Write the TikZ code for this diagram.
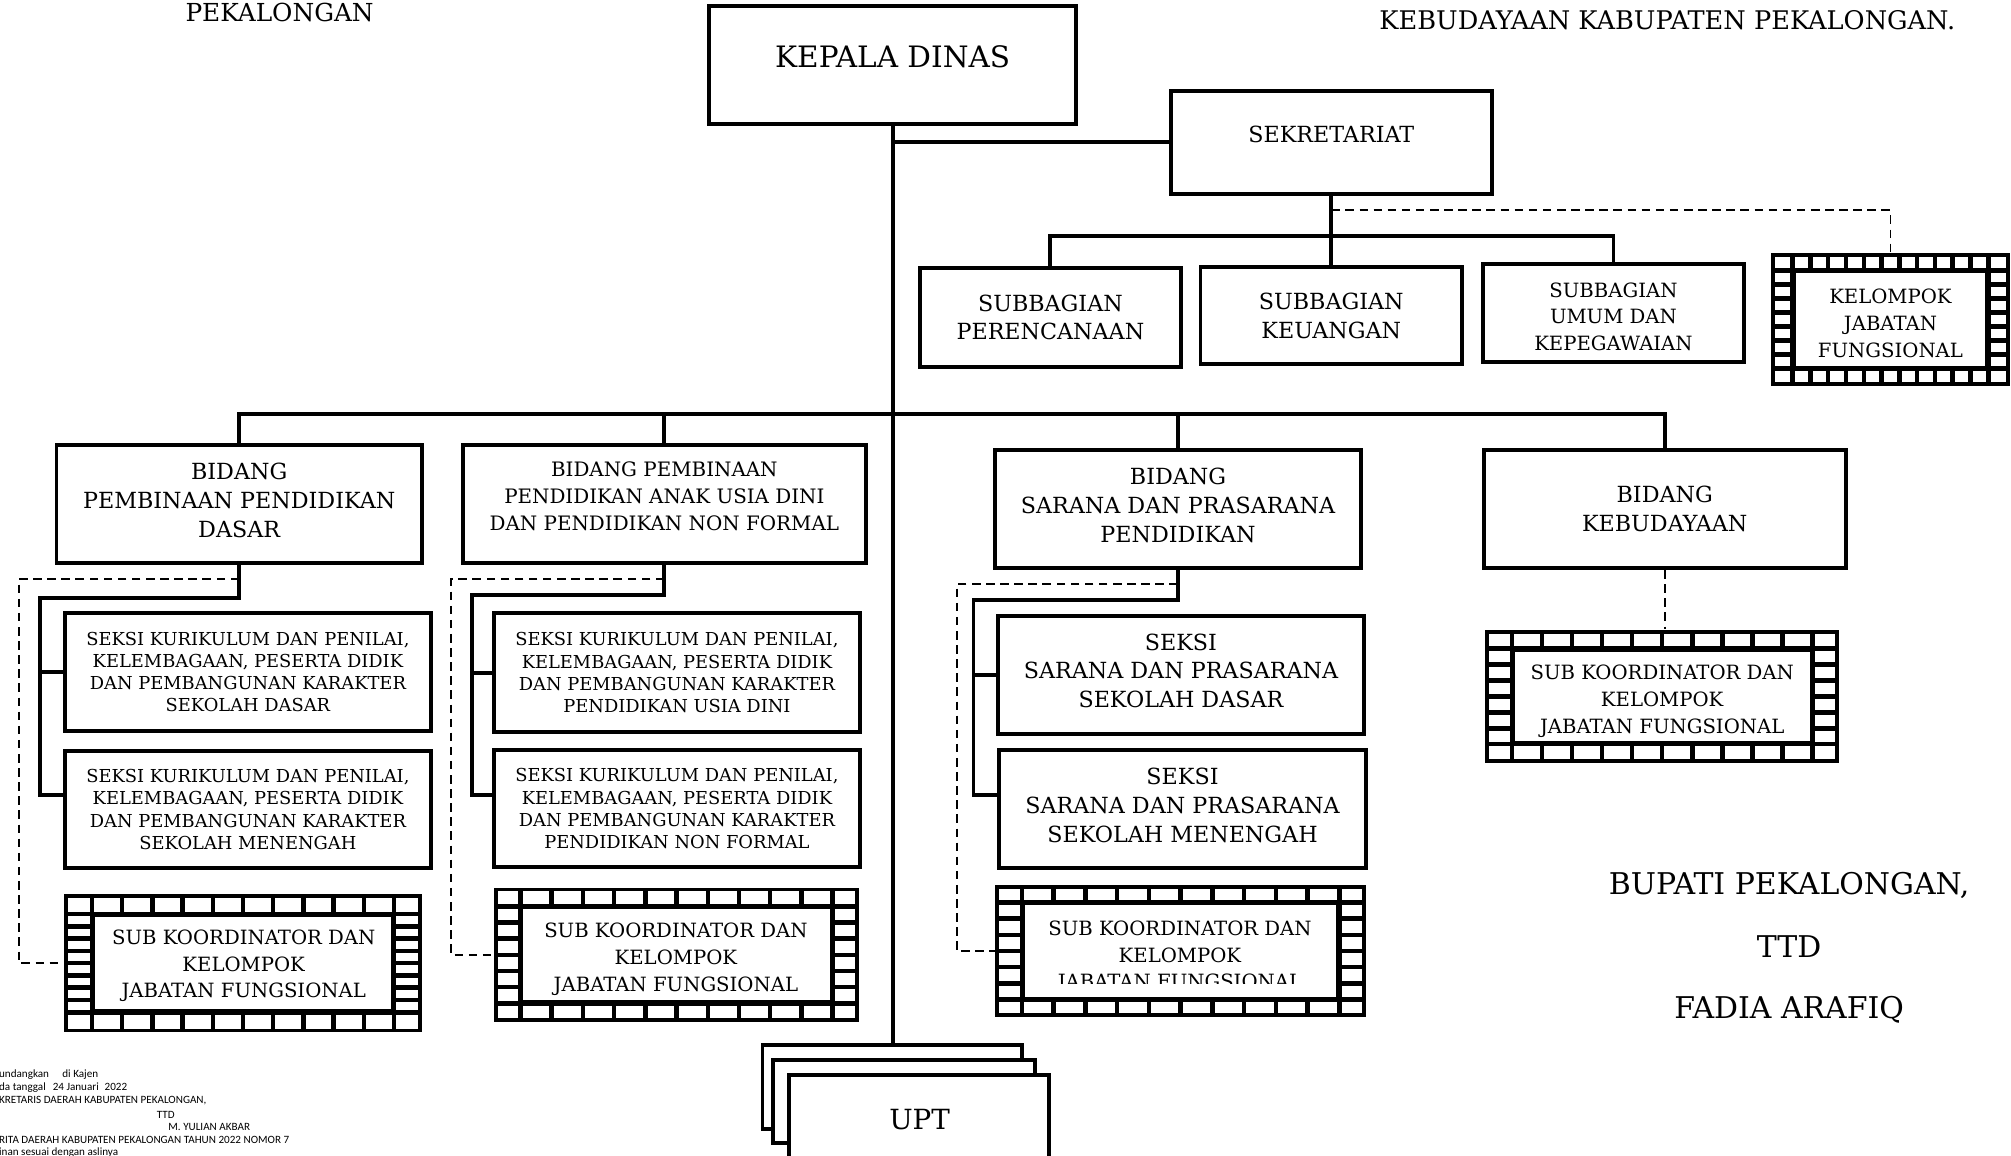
\documentclass[tikz,border=0pt]{standalone}
\usepackage{fontspec}
\setmainfont{DejaVu Serif}
\newfontfamily\smallsans{Carlito}
\usetikzlibrary{fit}

\newcommand\filmbox[9]{%
  \node[inner sep=0pt, fit={(#2,#3)(#4,#5)}] (#1) {};
  \pgfmathsetmacro\FmA{#2+#8-4}%
  \pgfmathsetmacro\FmE{#4-#8+4}%
  \pgfmathsetmacro\FmQ{(\FmE-\FmA-3.5)/#6}%
  \pgfmathsetmacro\FmB{#3+#9-4}%
  \pgfmathsetmacro\FmF{#5-#9+4}%
  \pgfmathsetmacro\FmP{(\FmF-\FmB-3.5)/#7}%
  \fill[black] (#2,#3) rectangle (#4,#5);
  \fill[white] ({#2+#8},{#3+#9}) rectangle ({#4-#8},{#5-#9});
  \fill[white] ({#2+3},{#3+3}) rectangle (\FmA,\FmB);
  \fill[white] (\FmE,{#3+3}) rectangle ({#4-3},\FmB);
  \fill[white] ({#2+3},\FmF) rectangle (\FmA,{#5-3});
  \fill[white] (\FmE,\FmF) rectangle ({#4-3},{#5-3});
  \foreach \k in {1,...,#6}{
    \fill[white] ({\FmA+3.5+(\k-1)*\FmQ},{#3+3}) rectangle ({\FmA+\k*\FmQ},\FmB);
    \fill[white] ({\FmA+3.5+(\k-1)*\FmQ},\FmF) rectangle ({\FmA+\k*\FmQ},{#5-3});
  }
  \foreach \k in {1,...,#7}{
    \fill[white] ({#2+3},{\FmB+3.5+(\k-1)*\FmP}) rectangle (\FmA,{\FmB+\k*\FmP});
    \fill[white] (\FmE,{\FmB+3.5+(\k-1)*\FmP}) rectangle ({#4-3},{\FmB+\k*\FmP});
  }
}

\tikzset{
  box/.style={draw, line width=1.8pt, fill=white, inner sep=0pt, align=center},
  conn/.style={line width=1.8pt},
  dconn/.style={line width=0.9pt, dash pattern=on 4pt off 2.6pt},
  tbig/.style={font=\fontsize{13.8}{16}\selectfont},
  tmain/.style={font=\fontsize{10.4}{13.5}\selectfont, align=center},
  tmed/.style={font=\fontsize{9.2}{12.6}\selectfont, align=center},
  tpaud/.style={font=\fontsize{9.3}{12.6}\selectfont, align=center},
  tsek/.style={font=\fontsize{8.35}{10.4}\selectfont, align=center},
  tsig/.style={font=\fontsize{14}{16}\selectfont},
  thead/.style={font=\fontsize{11.6}{14}\selectfont},
  thead2/.style={font=\fontsize{12}{14}\selectfont},
  tsmall/.style={font=\smallsans\fontsize{5.2}{6}\selectfont, anchor=west, inner sep=0pt},
}

\begin{document}
\begin{tikzpicture}[x=0.6pt, y=-0.6pt]
\useasboundingbox[fill=white] (0,0) rectangle (1568,901);

% header texts
\node[thead] (h1) at (218,10) {PEKALONGAN};
\node[thead2] (h2) at (1300,16) {KEBUDAYAAN KABUPATEN PEKALONGAN.};

% top boxes
\node[box, minimum width=171.6pt, minimum height=55.2pt] (kd) at (696,51) {};
\node[tbig] (kdt) at (696,44) {KEPALA DINAS};
\node[box, minimum width=150pt, minimum height=48pt] (sek) at (1038,111) {};
\node[tmain] (sekt) at (1038,105) {SEKRETARIAT};
\node[box, tmain, minimum width=122.4pt, minimum height=46.2pt] (sp) at (819,247.5) {SUBBAGIAN\\PERENCANAAN};
\node[box, tmain, minimum width=122.4pt, minimum height=45.6pt] (sk) at (1038,246) {SUBBAGIAN\\KEUANGAN};
\node[box, minimum width=122.4pt, minimum height=45.6pt] (su) at (1258,244) {};
\node[tmed] (sut) at (1258,247) {SUBBAGIAN\\UMUM DAN\\KEPEGAWAIAN};

% bidang
\node[box, minimum width=171pt, minimum height=55.2pt] (b1) at (186.5,393) {};
\node[tmain] (b1t) at (186.5,390) {BIDANG\\PEMBINAAN PENDIDIKAN\\DASAR};
\node[box, minimum width=188.4pt, minimum height=55.2pt] (b2) at (518,393) {};
\node[tpaud] (b2t) at (518,387) {BIDANG PEMBINAAN\\PENDIDIKAN ANAK USIA DINI\\DAN PENDIDIKAN NON FORMAL};
\node[box, minimum width=171pt, minimum height=55.2pt] (b3) at (918.5,397) {};
\node[tmain] (b3t) at (918.5,394) {BIDANG\\SARANA DAN PRASARANA\\PENDIDIKAN};
\node[box, tmain, minimum width=169.2pt, minimum height=55.2pt] (b4) at (1298,397) {BIDANG\\KEBUDAYAAN};

% seksi
\node[box, tsek, minimum width=171.2pt, minimum height=55.2pt] (s11) at (193.3,524) {SEKSI KURIKULUM DAN PENILAI,\\KELEMBAGAAN, PESERTA DIDIK\\DAN PEMBANGUNAN KARAKTER\\SEKOLAH DASAR};
\node[box, tsek, minimum width=171.2pt, minimum height=54.9pt] (s12) at (193.3,631.2) {SEKSI KURIKULUM DAN PENILAI,\\KELEMBAGAAN, PESERTA DIDIK\\DAN PEMBANGUNAN KARAKTER\\SEKOLAH MENENGAH};
\node[box, tsek, minimum width=171.4pt, minimum height=55.8pt] (s21) at (527.8,524.5) {SEKSI KURIKULUM DAN PENILAI,\\KELEMBAGAAN, PESERTA DIDIK\\DAN PEMBANGUNAN KARAKTER\\PENDIDIKAN USIA DINI};
\node[box, tsek, minimum width=171.4pt, minimum height=54.6pt] (s22) at (527.8,630.5) {SEKSI KURIKULUM DAN PENILAI,\\KELEMBAGAAN, PESERTA DIDIK\\DAN PEMBANGUNAN KARAKTER\\PENDIDIKAN NON FORMAL};
\node[box, minimum width=171.4pt, minimum height=55.2pt] (s31) at (920.8,526) {};
\node[tmain] (s31t) at (920.8,523) {SEKSI\\SARANA DAN PRASARANA\\SEKOLAH DASAR};
\node[box, minimum width=171.6pt, minimum height=55.2pt] (s32) at (922,631) {};
\node[tmain] (s32t) at (922,628) {SEKSI\\SARANA DAN PRASARANA\\SEKOLAH MENENGAH};

% film boxes
\filmbox{kjf}{1381}{197}{1567}{301}{11}{7}{19}{16}
\filmbox{f1}{50}{697}{329}{805}{10}{8}{24}{18}
\filmbox{f2}{385}{692}{670}{797}{10}{6}{23}{17}
\filmbox{f3}{776}{690}{1065}{793}{10}{6}{23}{16}
\filmbox{f4}{1158}{491}{1434}{595}{10}{6}{23}{17}
\node[tmed] (kjft) at (1474,252) {KELOMPOK\\JABATAN\\FUNGSIONAL};
\node[tmed] (f1t) at (190,753) {SUB KOORDINATOR DAN\\KELOMPOK\\JABATAN FUNGSIONAL};
\node[tmed] (f2t) at (527,748) {SUB KOORDINATOR DAN\\KELOMPOK\\JABATAN FUNGSIONAL};
\begin{scope}
  \clip (790,700) rectangle (1050,767);
  \node[tmed] (f3t) at (920,746) {SUB KOORDINATOR DAN\\KELOMPOK\\JABATAN FUNGSIONAL};
\end{scope}
\node[tmed] (f4t) at (1296,547) {SUB KOORDINATOR DAN\\KELOMPOK\\JABATAN FUNGSIONAL};

% UPT stack
\node[box, minimum width=121.5pt, minimum height=39pt] (upt1) at (695.75,847.5) {};
\node[box, minimum width=122.4pt, minimum height=38.7pt] (upt2) at (705,858.75) {};
\node[box, minimum width=121.8pt, minimum height=39pt] (upt3) at (716.5,870.5) {};
\node[font=\fontsize{13}{15}\selectfont] (uptt) at (717,873) {UPT};

% connectors
\draw[conn] (kd.south) -- (kd.south |- upt1.north);
\draw[conn] (sek.west) -- (sek.west -| kd.south);
\coordinate (sbar) at (1038,184);
\draw[conn] (sek.south) -- (sk.north);
\draw[conn] (sp.north) |- (sbar) -| (su.north);
\coordinate (sdash) at (1038,164);
\draw[dconn] (sdash) -| (kjf.north);

\coordinate (bar) at (696,323);
\draw[conn] (b1.north) |- (bar) -| (b4.north);
\draw[conn] (b2.north) -- (b2.north |- bar);
\draw[conn] (b3.north) -- (b3.north |- bar);

\coordinate (c1) at (31,466);
\draw[conn] (b1.south) |- (c1) |- ([yshift=6.7pt]s12.west);
\draw[conn] (c1 |- s11.west) -- (s11.west);
\coordinate (e1) at (14.8,451.6);
\draw[dconn] (b1.south |- e1) -- (e1) |- (f1.west);

\coordinate (c2) at (368,464);
\draw[conn] (b2.south) |- (c2) |- ([yshift=6.3pt]s22.west);
\draw[conn] (c2 |- s21.west) -- (s21.west);
\coordinate (e2) at (351.7,451.6);
\draw[dconn] (b2.south |- e2) -- (e2) |- (f2.west);

\coordinate (c3) at (759,468);
\draw[conn] (b3.south) |- (c3) |- ([yshift=6.6pt]s32.west);
\draw[conn] (c3 |- s31.west) -- (s31.west);
\coordinate (e3) at (746,455.5);
\draw[dconn] (b3.south |- e3) -- (e3) |- (f3.west);

\draw[dconn] (b4.south) -- (b4.south |- f4.north);

% signature
\node[tsig] (sg1) at (1395,690) {BUPATI PEKALONGAN,};
\node[tsig] (sg2) at (1395,738) {TTD};
\node[tsig] (sg3) at (1395,787) {FADIA ARAFIQ};

% small text bottom-left
\node[tsmall] (n1) at (-1,838) {undangkan\hspace{1.2em}di Kajen};
\node[tsmall] (n2) at (-1,848) {da tanggal\hspace{0.4em} 24 Januari\hspace{0.3em} 2022};
\node[tsmall] (n3) at (-1,858) {KRETARIS DAERAH KABUPATEN PEKALONGAN,};
\node[tsmall] (n4) at (122,869) {TTD};
\node[tsmall] (n5) at (131,879) {M. YULIAN AKBAR};
\node[tsmall] (n6) at (-1,889) {RITA DAERAH KABUPATEN PEKALONGAN TAHUN 2022 NOMOR 7};
\node[tsmall] (n7) at (-1,899) {inan sesuai dengan aslinya};
\end{tikzpicture}
\end{document}
